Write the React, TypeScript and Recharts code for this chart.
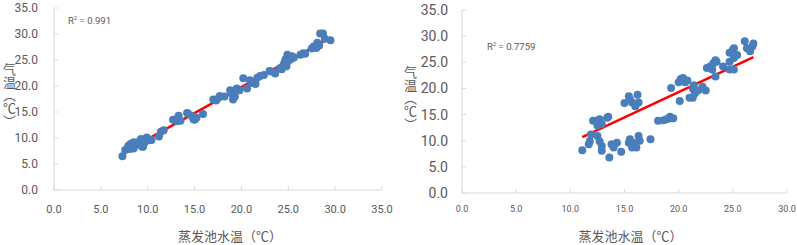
import { ScatterChart, Scatter, XAxis, YAxis, ReferenceLine, Label } from 'recharts'

// left panel: 蒸发池水温 vs 气温, R² = 0.991
const leftX = [
  7.3, 7.6, 7.9, 8.2, 8.5, 8.8, 9.2, 9.4, 9.7, 9.9, 8.5, 8.1, 9.5, 10.3, 11.2, 11.7,
  12.7, 13.3, 13.1, 14.3, 14.7, 14.9, 15.2, 15.9, 17.0, 17.3, 17.7, 18.8, 19.1, 19.3,
  19.5, 19.8, 20.2, 20.6, 20.9, 21.5, 21.7, 22.4, 23.0, 23.6, 24.1, 24.5, 24.7, 24.9,
  25.2, 25.4, 24.8, 26.3, 26.6, 27.7, 28.1, 28.4, 28.7, 28.9, 29.5, 28.0,
  8.0, 8.6, 9.0, 9.3, 10.4, 11.4, 13.2, 13.5, 14.2, 15.0, 14.8, 17.6, 18.2, 19.0,
  21.0, 22.0, 23.2, 24.3, 24.6, 25.0, 25.3, 25.6, 26.8, 27.5, 28.3,
]
const leftY = [
  6.5, 7.7, 8.3, 8.9, 8.0, 8.9, 9.6, 8.3, 9.2, 10.1, 9.2, 7.9, 8.3, 9.6, 10.3, 11.5,
  13.5, 14.3, 13.2, 14.7, 14.3, 13.6, 13.9, 14.6, 17.4, 17.2, 18.1, 19.2, 17.4, 18.0,
  19.5, 19.2, 21.5, 19.5, 21.1, 20.4, 21.6, 22.1, 22.9, 22.4, 23.4, 24.1, 25.1, 26.0,
  25.4, 25.7, 23.8, 26.0, 26.3, 27.6, 28.3, 30.1, 30.1, 29.1, 28.8, 27.3,
  8.6, 8.5, 9.0, 9.8, 9.6, 11.2, 13.8, 13.3, 14.8, 13.5, 14.0, 17.8, 18.0, 18.5,
  20.6, 21.9, 22.8, 23.2, 24.5, 24.8, 25.2, 25.5, 26.2, 27.2, 27.8,
]
const leftTrendX = [7.3, 29.5]
const leftTrendY = [7.1, 29.3]

// right panel: R² = 0.7759
const rightX = [
  11.1, 11.7, 11.8, 11.9, 12.1, 12.4, 12.5, 12.7, 12.9, 12.5, 12.7, 12.9, 12.9, 13.4,
  13.5, 13.6, 13.8, 14.0, 14.3, 14.7, 15.0, 15.4, 15.5, 15.7, 15.4, 15.5, 15.7, 15.8,
  16.0, 16.2, 16.3, 16.4, 16.1, 17.4, 18.1, 18.6, 18.9, 19.2, 19.3, 19.5, 19.3, 20.1,
  20.0, 20.2, 20.4, 20.6, 20.8, 21.0, 21.3, 21.4, 21.3, 21.5, 21.8, 22.2, 22.5, 22.6,
  22.9, 23.1, 23.2, 23.4, 23.5, 23.4, 24.1, 24.7, 24.7, 24.7, 25.0, 25.1, 25.1, 25.4,
  25.1, 26.1, 26.3, 26.6, 26.8, 26.9, 16.3,
]
const rightY = [
  8.2, 9.3, 9.9, 11.2, 13.8, 13.8, 12.9, 14.1, 13.2, 10.9, 9.9, 9.0, 8.1, 14.4,
  14.6, 6.8, 9.3, 8.7, 9.6, 7.9, 17.2, 18.5, 18.0, 17.3, 9.6, 10.3, 8.7, 9.6,
  16.6, 18.8, 10.9, 10.0, 8.7, 10.3, 13.8, 13.9, 14.1, 14.6, 14.3, 14.3, 20.1, 17.6,
  21.2, 21.8, 22.0, 21.2, 21.5, 18.2, 18.2, 20.6, 20.0, 19.1, 19.6, 20.3, 19.6, 23.9,
  24.2, 23.6, 24.8, 25.4, 25.1, 22.3, 24.2, 23.6, 25.1, 26.8, 27.4, 27.7, 25.8, 26.4,
  23.6, 29.0, 27.7, 27.1, 28.0, 28.6, 17.3,
]
const rightTrendX = [11.1, 26.9]
const rightTrendY = [10.7, 26.0]

const leftTicksX = [0, 5, 10, 15, 20, 25, 30, 35]
const rightTicksX = [0, 5, 10, 15, 20, 25, 30]
const ticksY = [0, 5, 10, 15, 20, 25, 30, 35]

const xTitle = '蒸发池水温（℃）'
const yTitle = '气温（℃）'

const GRAY = '#595959'
const AXIS = '#d9d9d9'
const DOT = '#4a7ebb'
const FONT = 'Roboto, "Noto Sans", sans-serif'
const CJK = '"Noto Sans CJK SC", sans-serif'

const fmt = (v: number) => v.toFixed(1)

const dot = (p: any) => <circle cx={p.cx} cy={p.cy} r={4} fill={DOT} />

type PanelProps = {
  xs: number[]
  ys: number[]
  tx: number[]
  ty: number[]
  xTicks: number[]
  width: number
  margin: { top: number; right: number; bottom: number; left: number }
  yWidth: number
  xHeight: number
  xFont: number
  yFont: number
  xMargin: number
  yMargin: number
  titleDx: number
}

function Panel(p: PanelProps) {
  const data = p.xs.map((x, i) => ({ x, y: p.ys[i] }))
  const xMax = p.xTicks[p.xTicks.length - 1]
  return (
    <ScatterChart width={p.width} height={245} margin={p.margin}>
      <XAxis
        type="number"
        dataKey="x"
        domain={[0, xMax]}
        ticks={p.xTicks}
        tickFormatter={fmt}
        height={p.xHeight}
        tickSize={-4}
        tickMargin={p.xMargin}
        stroke={AXIS}
        tick={{ fill: GRAY, fontSize: p.xFont, fontFamily: FONT }}
      >
        <Label
          value={xTitle}
          position="insideBottom"
          offset={4}
          dx={p.titleDx}
          style={{ fill: GRAY, fontSize: 13, fontFamily: CJK }}
        />
      </XAxis>
      <YAxis
        type="number"
        dataKey="y"
        domain={[0, 35]}
        ticks={ticksY}
        tickFormatter={fmt}
        width={p.yWidth}
        tickSize={-4}
        tickMargin={p.yMargin}
        stroke={AXIS}
        tick={{ fill: GRAY, fontSize: p.yFont, fontFamily: FONT }}
      />
      <Scatter data={data} fill={DOT} shape={dot} isAnimationActive={false} />
      <ReferenceLine
        segment={[
          { x: p.tx[0], y: p.ty[0] },
          { x: p.tx[1], y: p.ty[1] },
        ]}
        stroke="#ff0000"
        strokeWidth={2.5}
      />
    </ScatterChart>
  )
}

// vertical title: CJK glyphs stay upright, full-width brackets turn
const yLabelStyle: React.CSSProperties = {
  position: 'absolute',
  writingMode: 'vertical-rl',
  fontFamily: CJK,
  fontSize: 13,
  color: GRAY,
  lineHeight: 1,
}

const r2Style: React.CSSProperties = {
  position: 'absolute',
  fontFamily: FONT,
  fontSize: 9.5,
  color: GRAY,
  lineHeight: 1,
}

export default function App() {
  return (
    <div style={{ position: 'absolute', left: 0, top: 0, width: 797, height: 245, background: '#fff' }}>
      <div style={{ position: 'absolute', left: 0, top: 0 }}>
        <Panel
          xs={leftX}
          ys={leftY}
          tx={leftTrendX}
          ty={leftTrendY}
          xTicks={leftTicksX}
          width={400}
          margin={{ top: 8, right: 18, bottom: 0, left: 0 }}
          yWidth={54}
          xHeight={55}
          xFont={11}
          yFont={12}
          xMargin={19}
          yMargin={20}
          titleDx={12}
        />
      </div>
      <div style={{ position: 'absolute', left: 400, top: 0 }}>
        <Panel
          xs={rightX}
          ys={rightY}
          tx={rightTrendX}
          ty={rightTrendY}
          xTicks={rightTicksX}
          width={397}
          margin={{ top: 10, right: 10, bottom: 0, left: 0 }}
          yWidth={62}
          xHeight={52}
          xFont={9}
          yFont={14}
          xMargin={17}
          yMargin={18}
          titleDx={6}
        />
      </div>
      <div style={{ ...yLabelStyle, left: 3, top: 63 }}>{yTitle}</div>
      <div style={{ ...yLabelStyle, left: 404, top: 66 }}>{yTitle}</div>
      <div style={{ ...r2Style, left: 68, top: 15 }}>
        R<sup style={{ fontSize: 6 }}>2</sup> = 0.991
      </div>
      <div style={{ ...r2Style, left: 487, top: 41 }}>
        R<sup style={{ fontSize: 6 }}>2</sup> = 0.7759
      </div>
    </div>
  )
}
